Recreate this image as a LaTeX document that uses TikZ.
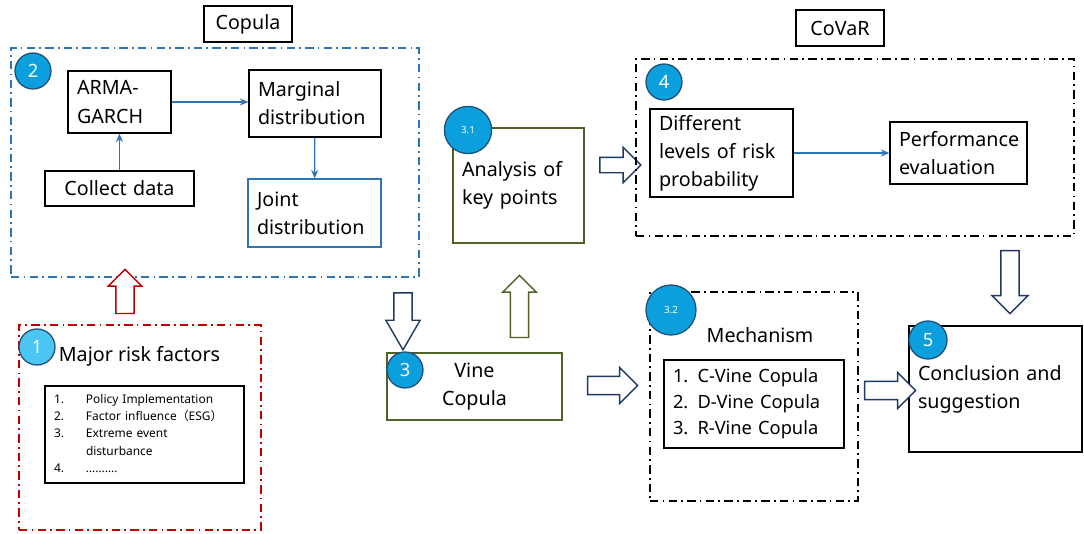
\documentclass[tikz,border=0pt]{standalone}
\usepackage{fontspec}
\setmainfont{Noto Sans}
\newfontfamily\cjk{Noto Sans CJK SC}
\usepackage{tikz}
\usetikzlibrary{shapes.arrows,arrows.meta}
\definecolor{cBlue}{HTML}{2E75B6}
\definecolor{cRed}{HTML}{C00000}
\definecolor{cOlive}{HTML}{4F6228}
\definecolor{cNavy}{HTML}{1F3864}
\definecolor{cBall}{HTML}{0BA0DD}
\definecolor{cBallLt}{HTML}{4CC6F3}
\definecolor{cRim}{HTML}{1F4E79}
% a box from x1 to x2, y1 to y2 (pixels of the page, y downwards)
\newcommand{\bx}[7]{\pgfmathsetmacro{\bxw}{(#3-#2)*0.025}%
  \pgfmathsetmacro{\bxh}{(#5-#4)*0.025}\pgfmathsetmacro{\bxt}{(#3-#2-18)*0.025}%
  \node[#6, minimum width=\bxw cm, minimum height=\bxh cm, text width=\bxt cm] (#1) at ({(#2+#3)/2},{(#4+#5)/2}) {#7};}

\begin{document}
\begin{tikzpicture}[x=0.025cm, y=-0.025cm,
  box/.style={draw, line width=0.9pt, inner xsep=0.225cm, inner ysep=1pt, align=left,
    font=\fontsize{14}{20}\selectfont},
  label/.style={box, align=center},
  frame/.style={draw, line width=1pt, dash pattern=on 6pt off 3pt on 1.2pt off 3pt},
  num/.style={circle, draw=cRim, line width=0.9pt, fill=cBall, text=white, inner sep=0pt,
    minimum size=0.9cm, font=\fontsize{13}{13}\selectfont},
  harrow/.style={single arrow, draw=cNavy, line width=1pt, fill=white, inner xsep=0pt,
    inner ysep=0.21cm, single arrow head extend=0.2cm, text height=0pt, text depth=0pt},
  link/.style={-{Stealth[length=6pt,width=5pt]}, cBlue, line width=0.9pt}]
\useasboundingbox (0,0) rectangle (1084,533);
% ---- Copula: the data side ----------------------------------------------
\bx{copula}{204}{292}{6}{42}{label}{Copula}
\bx{cop}{11}{419}{48}{277}{frame, cBlue}{}
\bx{arma}{68}{171}{71}{133}{box}{ARMA-\\GARCH}
\bx{marg}{249}{381}{70}{137}{box}{Marginal\\distribution}
\bx{collect}{45}{194}{171}{206}{box, align=center}{Collect data}
\bx{joint}{248}{381}{179}{247}{box, draw=cBlue}{Joint\\distribution}
\draw[link] (collect) -- (arma);
\draw[link] (arma.east) -- (arma.east -| marg.west);
\draw[link] (marg) -- (joint);
\node[num] (n2) at (33,71) {2};
% ---- risk factors ----------------------------------------------------------
\bx{risk}{19}{261}{325}{530}{frame, cRed}{}
\node[font=\fontsize{14}{18}\selectfont] (major) at (139.5,356) {Major risk factors};
\bx{list}{45}{244}{386}{483}{box, font=\fontsize{8.5}{12.4}\selectfont}{%
  \begin{tabular}{@{}p{0.8cm}@{}l@{}}
  1. & Policy Implementation\\
  2. & Factor influence{\cjk （}ESG{\cjk ）}\\
  3. & Extreme event\\
     & disturbance\\
  4. & ……….
  \end{tabular}}
\node[num, fill=cBallLt] (n1) at (37,347) {1};
\node[harrow, draw=cRed, rotate=90, minimum height=1.1cm, single arrow head extend=0.19cm] (up1) at (125,296) {};
% ---- Vine Copula and key points ---------------------------------------------
\bx{vine}{387}{562}{353}{420}{box, draw=cOlive, align=center}{Vine\\Copula}
\bx{anal}{453}{584}{128}{243}{box, draw=cOlive}{Analysis of\\key points}
\node[num] (n3) at (405,370) {3};
\node[num, minimum size=1.18cm, font=\fontsize{7}{7}\selectfont] (n31) at (468,130) {3.1};
\node[harrow, rotate=-90, minimum height=1.425cm, single arrow tip angle=60] (dn1) at (403,313.5) {};
\node[harrow, draw=cOlive, rotate=90, minimum height=1.55cm, single arrow head extend=0.19cm] (up2) at (519.5,311) {};
\node[harrow, minimum height=1.025cm, inner ysep=0.175cm, single arrow head extend=0.25cm] (rt1) at (616.5,165) {};
\node[harrow, minimum height=1.25cm, single arrow head extend=0.22cm] (rt2) at (608,385.5) {};
% ---- CoVaR ---------------------------------------------------------------------
\bx{covar}{796}{884}{10}{46}{label}{CoVaR}
\bx{cov}{636}{1074}{59}{236}{frame}{}
\bx{diff}{650}{793}{109}{197}{box}{Different\\levels of risk\\probability}
\bx{perf}{890}{1027}{122}{184}{box}{Performance\\evaluation}
\draw[link] (diff) -- (perf);
\node[num] (n4) at (664,82) {4};
\node[harrow, rotate=-90, minimum height=1.575cm, single arrow head extend=0.22cm] (dn2) at (1010,277.5) {};
% ---- mechanism and conclusion ---------------------------------------------------
\bx{mech}{650}{858}{292}{501}{frame}{}
\node[font=\fontsize{14}{18}\selectfont] (mtitle) at (760,335) {Mechanism};
\bx{vines}{664}{844}{360}{448}{box, font=\fontsize{13}{18.5}\selectfont}{1. C-Vine Copula\\2. D-Vine Copula\\3. R-Vine Copula}
\node[num, minimum size=1.25cm, font=\fontsize{7}{7}\selectfont] (n32) at (671,310) {3.2};
\bx{concl}{909}{1082}{326}{452}{box}{Conclusion and\\suggestion}
\node[num, minimum size=0.95cm] (n5) at (928,340) {5};
\node[harrow, minimum height=1.275cm, single arrow head extend=0.22cm] (rt3) at (885.5,390.5) {};
\end{tikzpicture}
\end{document}
